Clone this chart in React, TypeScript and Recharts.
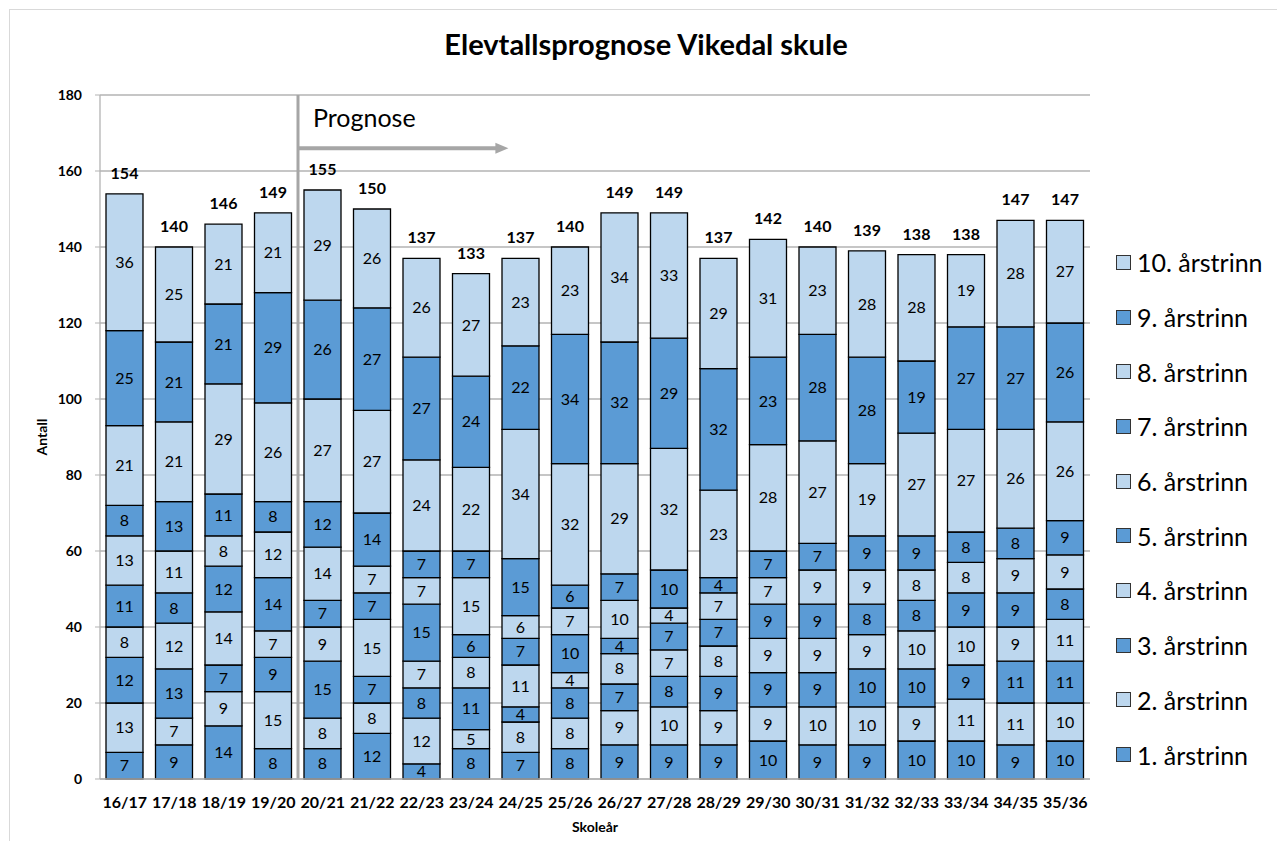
import React from 'react';
import { BarChart, Bar, XAxis, YAxis, CartesianGrid, Legend, LabelList, ReferenceLine, Label } from 'recharts';

const categories = ['16/17','17/18','18/19','19/20','20/21','21/22','22/23','23/24','24/25','25/26','26/27','27/28','28/29','29/30','30/31','31/32','32/33','33/34','34/35','35/36'];
const grade1 = [7,9,14,8,8,12,4,8,7,8,9,9,9,10,9,9,10,10,9,10];
const grade2 = [13,7,9,15,8,8,12,5,8,8,9,10,9,9,10,10,9,11,11,10];
const grade3 = [12,13,7,9,15,7,8,11,4,8,7,8,9,9,9,10,10,9,11,11];
const grade4 = [8,12,14,7,9,15,7,8,11,4,8,7,8,9,9,9,10,10,9,11];
const grade5 = [11,8,12,14,7,7,15,6,7,10,4,7,7,9,9,8,8,9,9,8];
const grade6 = [13,11,8,12,14,7,7,15,6,7,10,4,7,7,9,9,8,8,9,9];
const grade7 = [8,13,11,8,12,14,7,7,15,6,7,10,4,7,7,9,9,8,8,9];
const grade8 = [21,21,29,26,27,27,24,22,34,32,29,32,23,28,27,19,27,27,26,26];
const grade9 = [25,21,21,29,26,27,27,24,22,34,32,29,32,23,28,28,19,27,27,26];
const grade10 = [36,25,21,21,29,26,26,27,23,23,34,33,29,31,23,28,28,19,28,27];
const yTicks = [0,20,40,60,80,100,120,140,160,180];
const forecastStart = 4;
const arrowEnd = 8.25;
const arrowLevel = 166;

const seriesValues = [grade1, grade2, grade3, grade4, grade5, grade6, grade7, grade8, grade9, grade10];
const seriesNames = ['1. årstrinn','2. årstrinn','3. årstrinn','4. årstrinn','5. årstrinn','6. årstrinn','7. årstrinn','8. årstrinn','9. årstrinn','10. årstrinn'];
const DARK = '#5B9BD5';
const LIGHT = '#BDD7EE';
const colorFor = (i: number) => (i % 2 === 0 ? DARK : LIGHT);

const data = categories.map((c, idx) => {
  const row: any = { name: c, slot: idx + 0.5 };
  let total = 0;
  seriesValues.forEach((arr, s) => { row['s' + s] = arr[idx]; total += arr[idx]; });
  row.total = total;
  return row;
});

const FONT = 'Lato, "Open Sans", sans-serif';
const GRID = '#b3b3b3';

const LegendContent = () => (
  <div style={{ fontFamily: FONT }}>
    {seriesNames.map((n, i) => i).reverse().map((i) => (
      <div key={i} style={{ height: 54.7, display: 'flex', alignItems: 'center' }}>
        <span style={{ width: 13, height: 13, background: colorFor(i), border: '1px solid #333', display: 'inline-block', marginRight: 6, flexShrink: 0 }} />
        <span style={{ fontSize: 25, color: '#000', whiteSpace: 'nowrap' }}>{seriesNames[i]}</span>
      </div>
    ))}
  </div>
);

const ArrowShape = (props: any) => {
  const { x1, y1, x2, y2 } = props;
  return (
    <g>
      <line x1={x1} y1={y1} x2={x2 - 12} y2={y2} stroke="#a6a6a6" strokeWidth={4} />
      <polygon points={`${x2 - 13},${y2 - 5.5} ${x2},${y2} ${x2 - 13},${y2 + 5.5}`} fill="#a6a6a6" />
      <text x={x1 + 15} y={y1 - 21} fontSize={25} fontFamily={FONT} fill="#000">Prognose</text>
    </g>
  );
};

export default function App() {
  return (
    <div style={{ marginLeft: 1, marginTop: 1, width: 1272, height: 832, border: '1px solid #d9d9d9', position: 'relative', background: '#fff' }}>
      <div style={{ position: 'absolute', top: 16, left: 0, width: 1272, textAlign: 'center', fontFamily: FONT, fontWeight: 700, fontSize: 29, color: '#000' }}>
        Elevtallsprognose Vikedal skule
      </div>
      <BarChart width={1272} height={830} data={data} margin={{ top: 85, right: 192, left: 0, bottom: 21 }} barSize={37}>
        <CartesianGrid vertical={false} stroke={GRID} strokeWidth={1.3} />
        <XAxis xAxisId="num" dataKey="slot" type="number" domain={[0, 20]} allowDataOverflow ticks={categories.map((_, i) => i).concat([categories.length])} tick={false} axisLine={false} tickLine={{ stroke: GRID, strokeWidth: 1.3 }} tickSize={6} height={1} />
        <XAxis dataKey="name" tickLine={false} tickSize={0} tickMargin={18} axisLine={{ stroke: GRID, strokeWidth: 1.3 }} height={39} interval={0}
          tick={{ fontSize: 16, fontWeight: 700, fill: '#000', fontFamily: FONT }}>
          <Label content={({ viewBox }: any) => (
            <text x={viewBox.x + viewBox.width / 2} y={viewBox.y + 53} textAnchor="middle" fontSize={14} fontWeight={700} fontFamily={FONT} fill="#000">Skoleår</text>
          )} />
        </XAxis>
        <YAxis domain={[0, 180]} ticks={yTicks} width={90} tickSize={5} tickMargin={13} axisLine={{ stroke: GRID, strokeWidth: 1.3 }} tickLine={{ stroke: GRID }}
          tick={{ fontSize: 14, fontWeight: 700, fill: '#000', fontFamily: FONT }}>
          <Label content={({ viewBox }: any) => (
            <text x={37} y={viewBox.y + viewBox.height / 2} transform={`rotate(-90 37 ${viewBox.y + viewBox.height / 2})`} textAnchor="middle" fontSize={14} fontWeight={700} fontFamily={FONT} fill="#000">Antall</text>
          )} />
        </YAxis>
        <Legend layout="vertical" align="center" verticalAlign="middle" content={<LegendContent />} wrapperStyle={{ position: 'absolute', left: 1106, top: 225, width: 170 }} />
        {seriesValues.map((_, s) => (
          <Bar key={s} dataKey={'s' + s} name={seriesNames[s]} stackId="a" fill={colorFor(s)} stroke="#000" strokeWidth={1.3} isAnimationActive={false}>
            <LabelList dataKey={'s' + s} position="center" fill="#000" fontSize={16} fontFamily={FONT} />
            {s === seriesValues.length - 1 && (
              <LabelList dataKey="total" content={(p: any) => (
                <text x={p.x + p.width / 2} y={p.y - 15} textAnchor="middle" fontSize={16} fontWeight={700} fontFamily={FONT} fill="#000">{p.value}</text>
              )} />
            )}
          </Bar>
        ))}
        <ReferenceLine xAxisId="num" x={forecastStart} stroke="#a6a6a6" strokeWidth={3} />
        <ReferenceLine xAxisId="num" segment={[{ x: forecastStart, y: arrowLevel }, { x: arrowEnd, y: arrowLevel }]} shape={ArrowShape} />
      </BarChart>
    </div>
  );
}
